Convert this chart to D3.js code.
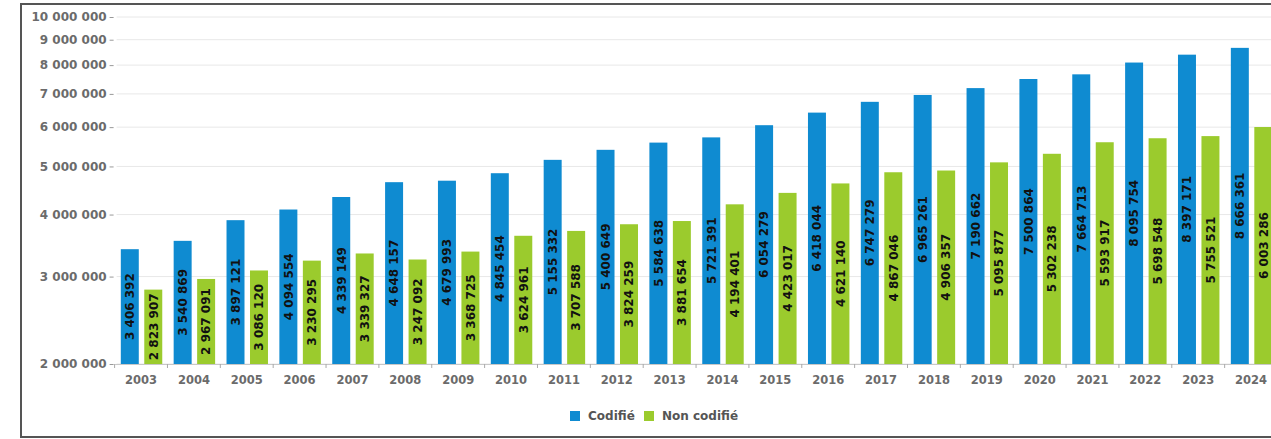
<!DOCTYPE html>
<html>
  <meta charset="utf-8">
  <title>Codifié / Non codifié</title>
  <script src="https://d3js.org/d3.v7.min.js"></script>
  <style>
    body { margin: 0; background: #fff; }
    text { font-family: "DejaVu Sans", sans-serif; font-weight: bold; }
  </style>
<body>
  <script>
    var years = ["2003", "2004", "2005", "2006", "2007", "2008", "2009", "2010", "2011", "2012", "2013",
                 "2014", "2015", "2016", "2017", "2018", "2019", "2020", "2021", "2022", "2023", "2024"];
    var codifie = [3406392, 3540869, 3897121, 4094554, 4339149, 4648157, 4679993, 4845454, 5155332, 5400649, 5584638,
                   5721391, 6054279, 6418044, 6747279, 6965261, 7190662, 7500864, 7664713, 8095754, 8397171, 8666361];
    var nonCodifie = [2823907, 2967091, 3086120, 3230295, 3339327, 3247092, 3368725, 3624961, 3707588, 3824259, 3881654,
                      4194401, 4423017, 4621140, 4867046, 4906357, 5095877, 5302238, 5593917, 5698548, 5755521, 6003286];
    var seriesNames = ["Codifié", "Non codifié"];
    var seriesColors = ["#0f8bd1", "#9bcb2d"];
    var yTicks = [2000000, 3000000, 4000000, 5000000, 6000000, 7000000, 8000000, 9000000, 10000000];

    var width = 1271;
    var height = 439;
    var plotLeft = 114.6, plotRight = 1277.5, plotTop = 17, plotBottom = 364;

    var fmt = function(v) { return d3.format(",")(v).replace(/,/g, " "); };

    var svg = d3.select("body").append("svg").attr("width", width).attr("height", height);

    // frame (right side falls outside the window)
    svg.append("rect")
      .attr("x", 21).attr("y", 4)
      .attr("width", 1300).attr("height", 433)
      .attr("fill", "none")
      .attr("stroke", "#555")
      .attr("stroke-width", 2);

    var x0 = d3.scaleBand().domain(years).range([plotLeft, plotRight]);
    var x1 = d3.scaleBand().domain(seriesNames)
      .range([6.2, x0.bandwidth() - 5.2])
      .paddingInner(5.5 / 23.5);
    var y = d3.scaleLog().domain([2000000, 10000000]).range([plotBottom, plotTop]);

    // grid
    svg.append("g")
      .selectAll("line")
      .data(yTicks)
      .enter()
      .append("line")
      .attr("x1", plotLeft + 2).attr("x2", width)
      .attr("y1", function(d) { return y(d); })
      .attr("y2", function(d) { return y(d); })
      .attr("stroke", "#e8e8e8");

    // y axis
    var axisY = d3.axisLeft(y).tickValues(yTicks).tickFormat(fmt).tickSize(4).tickPadding(3);
    var gy = svg.append("g")
      .attr("transform", "translate(" + (plotLeft - 1) + ",0)")
      .call(axisY);
    gy.select(".domain").remove();
    gy.selectAll(".tick line").attr("stroke", "#999");
    gy.selectAll(".tick text").attr("fill", "#6b6b6b").style("font-size", "12px");

    // x axis
    var axisX = d3.axisBottom(x0).tickSize(0).tickPadding(12);
    var gx = svg.append("g")
      .attr("transform", "translate(0," + plotBottom + ")")
      .call(axisX);
    gx.select(".domain").attr("stroke", "#c8c8c8");
    gx.selectAll(".tick text").attr("fill", "#6b6b6b").style("font-size", "11.5px");
    gx.append("g")
      .selectAll("line")
      .data(years)
      .enter()
      .append("line")
      .attr("x1", function(d) { return x0(d); })
      .attr("x2", function(d) { return x0(d); })
      .attr("y1", 0).attr("y2", 4)
      .attr("stroke", "#aaa");

    var series = [codifie, nonCodifie];
    series.forEach(function(vals, si) {
      var g = svg.append("g");
      g.selectAll("rect")
        .data(vals)
        .enter()
        .append("rect")
        .attr("x", function(d, i) { return x0(years[i]) + x1(seriesNames[si]); })
        .attr("y", function(d) { return y(d); })
        .attr("width", x1.bandwidth())
        .attr("height", function(d) { return plotBottom - y(d); })
        .attr("fill", seriesColors[si]);

      g.selectAll("text")
        .data(vals)
        .enter()
        .append("text")
        .attr("transform", function(d, i) {
          var cx = x0(years[i]) + x1(seriesNames[si]) + x1.bandwidth() / 2;
          var cy = (y(d) + plotBottom) / 2;
          return "translate(" + cx + "," + cy + ") rotate(-90)";
        })
        .attr("text-anchor", "middle")
        .attr("dy", "0.36em")
        .attr("fill", "#111")
        .style("font-size", "12px")
        .text(function(d) { return fmt(d); });
    });

    // legend
    var legend = svg.append("g").attr("transform", "translate(570,411)");
    var lx = [0, 74];
    seriesNames.forEach(function(name, i) {
      legend.append("rect")
        .attr("x", lx[i]).attr("y", 0)
        .attr("width", 10).attr("height", 10)
        .attr("fill", seriesColors[i]);
      legend.append("text")
        .attr("x", lx[i] + 18).attr("y", 9)
        .attr("fill", "#555")
        .style("font-size", "12px")
        .text(name);
    });
  </script>
</body>
</html>
